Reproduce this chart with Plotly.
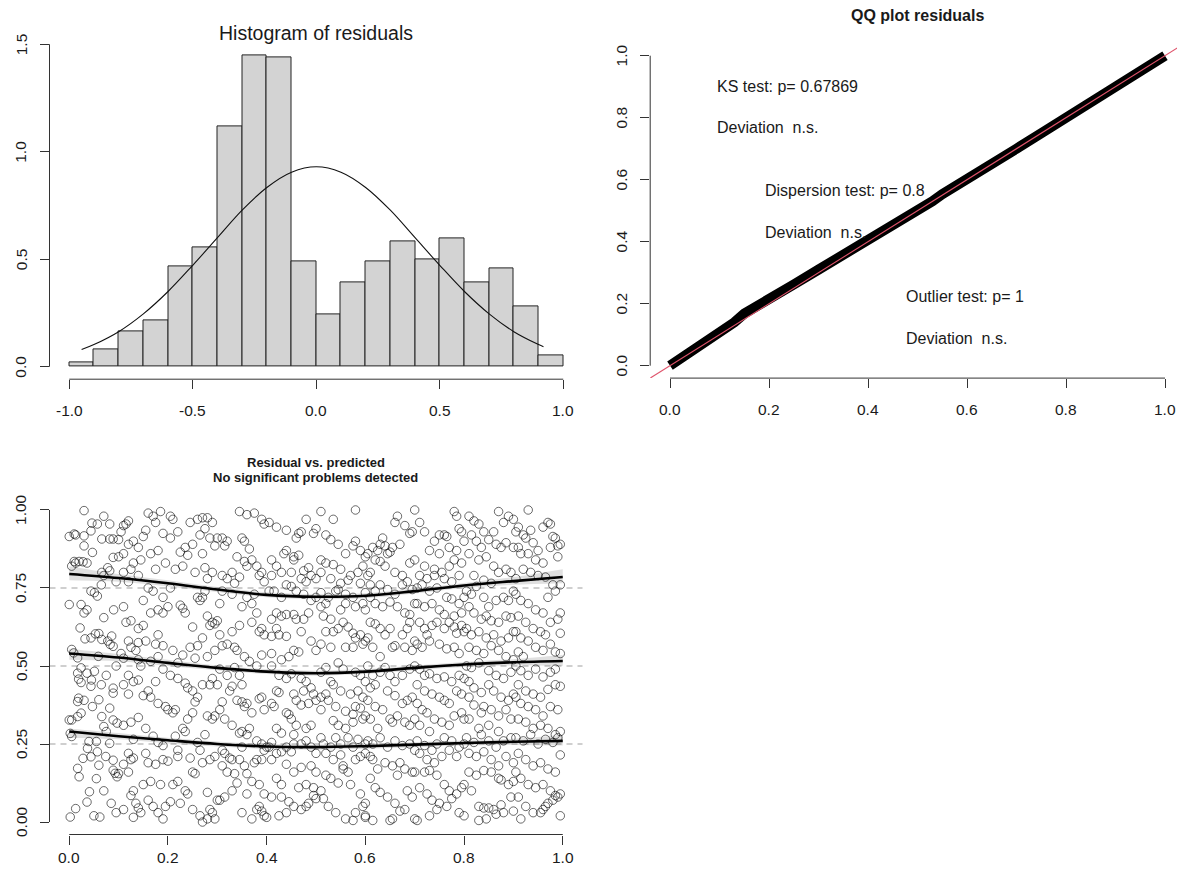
import plotly.graph_objects as go

W, H = 1185, 874
OFF = 8  # the page body adds an 8px margin; shift the figure so its pixels line up with the window
FW, FH = W - OFF, H - OFF
FONT = "Liberation Sans, Arial, Helvetica, sans-serif"
TXT = "#1a1a1a"
AX = "#333333"

# ---------------- Histogram of residuals ----------------
hist_left_edges = [-1.0, -0.9, -0.8, -0.7, -0.6, -0.5, -0.4, -0.3, -0.2, -0.1,
                   0.0, 0.1, 0.2, 0.3, 0.4, 0.5, 0.6, 0.7, 0.8, 0.9]
hist_density = [0.019, 0.081, 0.163, 0.217, 0.465, 0.555, 1.12, 1.446, 1.438, 0.49,
                0.245, 0.391, 0.49, 0.582, 0.50, 0.599, 0.391, 0.456, 0.282, 0.054]
hist_bin_width = 0.1
normal_x = [-0.95, -0.9, -0.8, -0.7, -0.6, -0.5, -0.4, -0.3, -0.2, -0.1, 0.0,
            0.1, 0.2, 0.3, 0.4, 0.5, 0.6, 0.7, 0.8, 0.9, 0.92]
normal_y = [0.080, 0.103, 0.163, 0.246, 0.350, 0.472, 0.600, 0.728, 0.834, 0.905, 0.930,
            0.905, 0.834, 0.728, 0.600, 0.472, 0.350, 0.246, 0.163, 0.103, 0.093]
hist_xticks = [-1.0, -0.5, 0.0, 0.5, 1.0]
hist_xlabels = ["-1.0", "-0.5", "0.0", "0.5", "1.0"]
hist_yticks = [0.0, 0.5, 1.0, 1.5]
hist_ylabels = ["0.0", "0.5", "1.0", "1.5"]

# ---------------- QQ plot residuals ----------------
qq_expected = [0.0, 0.02, 0.05, 0.1, 0.13, 0.15, 0.2, 0.25, 0.3, 0.35, 0.4, 0.45, 0.5,
               0.53, 0.55, 0.6, 0.65, 0.7, 0.75, 0.8, 0.85, 0.9, 0.95, 1.0]
qq_observed = [0.0, 0.021, 0.054, 0.108, 0.14, 0.168, 0.212, 0.262, 0.31, 0.357, 0.406, 0.455, 0.495,
               0.53, 0.553, 0.605, 0.648, 0.70, 0.75, 0.799, 0.85, 0.90, 0.945, 1.0]
qq_ticks = [0.0, 0.2, 0.4, 0.6, 0.8, 1.0]
qq_labels = ["0.0", "0.2", "0.4", "0.6", "0.8", "1.0"]
qq_texts = ["KS test: p= 0.67869", "Deviation  n.s.",
            "Dispersion test: p= 0.8", "Deviation  n.s.",
            "Outlier test: p= 1", "Deviation  n.s."]
qq_text_x = [0.09, 0.09, 0.188, 0.188, 0.473, 0.473]
qq_text_y = [0.90, 0.767, 0.565, 0.429, 0.223, 0.087]

# ---------------- Residual vs. predicted ----------------
scatter_points = [
    # 0.0 - 0.1
    (0.0, 0.915), (0.01, 0.923), (0.03, 0.998), (0.013, 0.92), (0.03, 0.917), (0.046, 0.958),
    (0.044, 0.933), (0.057, 0.955), (0.07, 0.98), (0.082, 0.955), (0.066, 0.907), (0.082, 0.907),
    (0.03, 0.885), (0.028, 0.834), (0.013, 0.83), (0.036, 0.83), (0.02, 0.835), (0.047, 0.864),
    (0.089, 0.907), (0.089, 0.848), (0.066, 0.8), (0.078, 0.815), (0.082, 0.805), (0.0, 0.697),
    (0.024, 0.697), (0.03, 0.67), (0.036, 0.68), (0.044, 0.74), (0.051, 0.735), (0.057, 0.724),
    (0.022, 0.622), (0.032, 0.587), (0.044, 0.59), (0.053, 0.603), (0.06, 0.604), (0.066, 0.585),
    (0.078, 0.58), (0.086, 0.596), (0.083, 0.569), (0.089, 0.563), (0.059, 0.531), (0.005, 0.553),
    (0.009, 0.542), (0.017, 0.526), (0.017, 0.477), (0.024, 0.494), (0.019, 0.458), (0.024, 0.447),
    (0.036, 0.477), (0.044, 0.435), (0.051, 0.483), (0.089, 0.429), (0.089, 0.413), (0.0, 0.327),
    (0.005, 0.327), (0.017, 0.338), (0.017, 0.386), (0.019, 0.397), (0.024, 0.349), (0.047, 0.37),
    (0.06, 0.392), (0.066, 0.338), (0.07, 0.306), (0.075, 0.29), (0.089, 0.327), (0.097, 0.317),
    (0.082, 0.365), (0.002, 0.284), (0.005, 0.274), (0.017, 0.172), (0.02, 0.145), (0.028, 0.204),
    (0.04, 0.258), (0.037, 0.236), (0.044, 0.209), (0.036, 0.064), (0.041, 0.097), (0.055, 0.258),
    (0.057, 0.225), (0.06, 0.182), (0.055, 0.139), (0.062, 0.016), (0.074, 0.21), (0.082, 0.252),
    (0.089, 0.166), (0.093, 0.156), (0.002, 0.016), (0.013, 0.043), (0.089, 0.198), (0.097, 0.145),
    (0.005, 0.82), (0.01, 0.835), (0.065, 0.76), (0.07, 0.79), (0.095, 0.77), (0.09, 0.68),
    (0.07, 0.655), (0.095, 0.50), (0.075, 0.47), (0.065, 0.44), (0.045, 0.455), (0.03, 0.39),
    (0.07, 0.10), (0.085, 0.06), (0.095, 0.03), (0.05, 0.02),
    # 0.1 - 0.2
    (0.11, 0.95), (0.115, 0.955), (0.12, 0.965), (0.105, 0.93), (0.13, 0.90), (0.16, 0.99),
    (0.17, 0.98), (0.155, 0.935), (0.175, 0.96), (0.185, 0.995), (0.19, 0.925), (0.15, 0.915),
    (0.14, 0.88), (0.12, 0.89), (0.10, 0.905), (0.11, 0.86), (0.10, 0.85), (0.13, 0.83),
    (0.145, 0.84), (0.165, 0.86), (0.18, 0.87), (0.195, 0.83), (0.175, 0.81), (0.125, 0.81),
    (0.11, 0.80), (0.14, 0.79), (0.12, 0.77), (0.16, 0.75), (0.17, 0.74), (0.19, 0.72),
    (0.20, 0.69), (0.18, 0.68), (0.15, 0.71), (0.11, 0.69), (0.115, 0.64), (0.125, 0.645),
    (0.14, 0.62), (0.15, 0.63), (0.165, 0.67), (0.19, 0.67), (0.18, 0.60), (0.175, 0.57),
    (0.19, 0.565), (0.12, 0.58), (0.14, 0.575), (0.135, 0.55), (0.125, 0.56), (0.155, 0.58),
    (0.11, 0.525), (0.105, 0.54), (0.14, 0.52), (0.145, 0.50), (0.165, 0.515), (0.19, 0.49),
    (0.18, 0.53), (0.12, 0.47), (0.13, 0.45), (0.14, 0.455), (0.16, 0.42), (0.175, 0.45),
    (0.15, 0.405), (0.165, 0.40), (0.12, 0.41), (0.11, 0.44), (0.18, 0.38), (0.195, 0.37),
    (0.2, 0.36), (0.14, 0.335), (0.125, 0.32), (0.11, 0.31), (0.155, 0.30), (0.17, 0.275),
    (0.18, 0.255), (0.19, 0.245), (0.13, 0.265), (0.12, 0.22), (0.125, 0.20), (0.13, 0.205),
    (0.11, 0.185), (0.155, 0.22), (0.16, 0.19), (0.175, 0.185), (0.19, 0.20), (0.2, 0.195),
    (0.12, 0.16), (0.10, 0.155), (0.15, 0.12), (0.13, 0.10), (0.135, 0.06), (0.14, 0.045),
    (0.13, 0.015), (0.145, 0.03), (0.16, 0.07), (0.17, 0.05), (0.18, 0.03), (0.19, 0.01),
    (0.165, 0.13), (0.185, 0.12), (0.195, 0.05), (0.11, 0.04), (0.125, 0.085),
    # 0.2 - 0.3
    (0.205, 0.98), (0.21, 0.97), (0.22, 0.93), (0.205, 0.91), (0.235, 0.88), (0.24, 0.855),
    (0.245, 0.96), (0.26, 0.97), (0.27, 0.975), (0.265, 0.92), (0.28, 0.975), (0.275, 0.94),
    (0.29, 0.96), (0.25, 0.89), (0.27, 0.86), (0.285, 0.91), (0.30, 0.91), (0.295, 0.885),
    (0.225, 0.865), (0.215, 0.81), (0.23, 0.82), (0.255, 0.80), (0.28, 0.78), (0.29, 0.80),
    (0.275, 0.815), (0.205, 0.75), (0.225, 0.695), (0.23, 0.685), (0.235, 0.67), (0.25, 0.625),
    (0.26, 0.72), (0.265, 0.71), (0.27, 0.72), (0.275, 0.74), (0.28, 0.66), (0.29, 0.64),
    (0.295, 0.635), (0.285, 0.63), (0.3, 0.645), (0.27, 0.59), (0.245, 0.56), (0.255, 0.525),
    (0.26, 0.565), (0.23, 0.535), (0.21, 0.55), (0.22, 0.51), (0.28, 0.53), (0.295, 0.55),
    (0.205, 0.47), (0.22, 0.46), (0.235, 0.445), (0.24, 0.43), (0.25, 0.42), (0.27, 0.44),
    (0.285, 0.44), (0.3, 0.44), (0.29, 0.46), (0.26, 0.4), (0.255, 0.385), (0.28, 0.34),
    (0.29, 0.33), (0.295, 0.34), (0.24, 0.33), (0.23, 0.30), (0.235, 0.29), (0.215, 0.36),
    (0.21, 0.35), (0.25, 0.35), (0.215, 0.275), (0.22, 0.23), (0.22, 0.21), (0.245, 0.205),
    (0.26, 0.255), (0.265, 0.23), (0.275, 0.28), (0.27, 0.19), (0.255, 0.155), (0.25, 0.16),
    (0.235, 0.10), (0.24, 0.09), (0.22, 0.13), (0.21, 0.12), (0.205, 0.065), (0.225, 0.06),
    (0.25, 0.04), (0.265, 0.02), (0.27, 0.0), (0.28, 0.01), (0.285, 0.04), (0.29, 0.03),
    (0.295, 0.01), (0.28, 0.095), (0.3, 0.07), (0.285, 0.20), (0.295, 0.21),
    # 0.3 - 0.4
    (0.31, 0.91), (0.32, 0.90), (0.315, 0.885), (0.345, 0.995), (0.36, 0.985), (0.375, 0.99),
    (0.39, 0.97), (0.395, 0.955), (0.35, 0.91), (0.355, 0.90), (0.365, 0.875), (0.34, 0.85),
    (0.355, 0.835), (0.36, 0.82), (0.37, 0.84), (0.38, 0.82), (0.385, 0.79), (0.39, 0.80),
    (0.33, 0.80), (0.31, 0.79), (0.32, 0.78), (0.335, 0.765), (0.345, 0.785), (0.395, 0.77),
    (0.31, 0.74), (0.305, 0.70), (0.33, 0.73), (0.35, 0.69), (0.37, 0.70), (0.36, 0.72),
    (0.375, 0.73), (0.38, 0.67), (0.37, 0.64), (0.345, 0.63), (0.33, 0.61), (0.39, 0.62),
    (0.385, 0.61), (0.395, 0.60), (0.305, 0.60), (0.31, 0.565), (0.32, 0.57), (0.335, 0.56),
    (0.34, 0.55), (0.355, 0.53), (0.365, 0.515), (0.38, 0.50), (0.39, 0.535), (0.305, 0.49),
    (0.32, 0.47), (0.335, 0.495), (0.345, 0.47), (0.35, 0.44), (0.33, 0.435), (0.325, 0.42),
    (0.34, 0.39), (0.35, 0.385), (0.355, 0.37), (0.36, 0.38), (0.385, 0.395), (0.39, 0.40),
    (0.395, 0.36), (0.37, 0.35), (0.31, 0.385), (0.305, 0.36), (0.315, 0.33), (0.33, 0.31),
    (0.345, 0.285), (0.35, 0.29), (0.36, 0.28), (0.365, 0.30), (0.38, 0.26), (0.39, 0.25),
    (0.4, 0.24), (0.31, 0.23), (0.315, 0.22), (0.325, 0.205), (0.33, 0.20), (0.345, 0.20),
    (0.35, 0.24), (0.355, 0.18), (0.375, 0.19), (0.38, 0.2), (0.39, 0.20), (0.395, 0.23),
    (0.31, 0.18), (0.32, 0.16), (0.335, 0.155), (0.36, 0.155), (0.37, 0.13), (0.385, 0.12),
    (0.395, 0.09), (0.305, 0.07), (0.315, 0.08), (0.35, 0.03), (0.37, 0.01), (0.38, 0.04),
    (0.385, 0.05), (0.39, 0.035), (0.395, 0.02), (0.4, 0.015), (0.36, 0.09), (0.33, 0.10),
    (0.34, 0.125),
    # 0.4 - 0.5
    (0.405, 0.96), (0.42, 0.945), (0.44, 0.935), (0.46, 0.91), (0.465, 0.925), (0.47, 0.93),
    (0.48, 0.97), (0.495, 0.925), (0.5, 0.94), (0.455, 0.85), (0.455, 0.84), (0.465, 0.855),
    (0.44, 0.87), (0.435, 0.86), (0.41, 0.84), (0.42, 0.82), (0.43, 0.80), (0.45, 0.80),
    (0.475, 0.805), (0.485, 0.815), (0.49, 0.79), (0.5, 0.78), (0.47, 0.78), (0.48, 0.77),
    (0.41, 0.79), (0.44, 0.76), (0.405, 0.74), (0.415, 0.74), (0.43, 0.72), (0.45, 0.755),
    (0.46, 0.74), (0.475, 0.73), (0.49, 0.71), (0.5, 0.72), (0.42, 0.67), (0.41, 0.65),
    (0.43, 0.66), (0.44, 0.665), (0.455, 0.665), (0.46, 0.65), (0.475, 0.65), (0.485, 0.67),
    (0.42, 0.62), (0.425, 0.60), (0.41, 0.595), (0.44, 0.595), (0.47, 0.61), (0.49, 0.58),
    (0.5, 0.55), (0.455, 0.55), (0.465, 0.545), (0.43, 0.52), (0.445, 0.53), (0.41, 0.54),
    (0.41, 0.50), (0.425, 0.47), (0.44, 0.46), (0.45, 0.475), (0.47, 0.46), (0.48, 0.45),
    (0.49, 0.43), (0.495, 0.41), (0.42, 0.42), (0.425, 0.415), (0.455, 0.41), (0.475, 0.42),
    (0.46, 0.39), (0.47, 0.375), (0.485, 0.38), (0.5, 0.39), (0.41, 0.38), (0.415, 0.37),
    (0.44, 0.35), (0.445, 0.345), (0.45, 0.33), (0.46, 0.31), (0.48, 0.30), (0.49, 0.31),
    (0.42, 0.30), (0.43, 0.285), (0.455, 0.28), (0.41, 0.255), (0.405, 0.24), (0.42, 0.22),
    (0.43, 0.225), (0.44, 0.24), (0.45, 0.225), (0.455, 0.25), (0.47, 0.25), (0.48, 0.26),
    (0.49, 0.24), (0.5, 0.22), (0.41, 0.20), (0.44, 0.185), (0.455, 0.16), (0.47, 0.175),
    (0.49, 0.18), (0.5, 0.16), (0.42, 0.14), (0.43, 0.12), (0.465, 0.11), (0.48, 0.12),
    (0.495, 0.11), (0.41, 0.08), (0.43, 0.08), (0.44, 0.03), (0.445, 0.065), (0.455, 0.05),
    (0.47, 0.04), (0.48, 0.05), (0.485, 0.06), (0.5, 0.075), (0.495, 0.085), (0.425, 0.02),
    # 0.5 - 0.6
    (0.51, 0.995), (0.535, 0.97), (0.58, 1.0), (0.52, 0.92), (0.53, 0.905), (0.545, 0.89),
    (0.575, 0.885), (0.58, 0.90), (0.59, 0.87), (0.56, 0.86), (0.51, 0.84), (0.52, 0.83),
    (0.535, 0.825), (0.55, 0.81), (0.57, 0.79), (0.585, 0.80), (0.595, 0.82), (0.6, 0.85),
    (0.51, 0.80), (0.53, 0.78), (0.55, 0.765), (0.565, 0.775), (0.59, 0.765), (0.545, 0.745),
    (0.51, 0.735), (0.525, 0.72), (0.54, 0.74), (0.56, 0.73), (0.575, 0.72), (0.6, 0.735),
    (0.51, 0.69), (0.52, 0.70), (0.55, 0.68), (0.56, 0.70), (0.58, 0.69), (0.595, 0.70),
    (0.6, 0.68), (0.515, 0.66), (0.53, 0.65), (0.555, 0.64), (0.565, 0.625), (0.575, 0.605),
    (0.58, 0.59), (0.59, 0.60), (0.6, 0.58), (0.52, 0.61), (0.535, 0.61), (0.545, 0.62),
    (0.56, 0.56), (0.575, 0.56), (0.53, 0.56), (0.51, 0.57), (0.595, 0.57), (0.51, 0.48),
    (0.52, 0.495), (0.545, 0.51), (0.555, 0.49), (0.58, 0.48), (0.59, 0.47), (0.6, 0.45),
    (0.53, 0.45), (0.535, 0.44), (0.55, 0.42), (0.57, 0.41), (0.585, 0.42), (0.595, 0.40),
    (0.52, 0.41), (0.51, 0.40), (0.525, 0.39), (0.54, 0.37), (0.56, 0.355), (0.575, 0.345),
    (0.58, 0.37), (0.59, 0.365), (0.6, 0.34), (0.51, 0.36), (0.535, 0.325), (0.545, 0.31),
    (0.56, 0.30), (0.575, 0.32), (0.595, 0.33), (0.51, 0.27), (0.515, 0.25), (0.53, 0.24),
    (0.54, 0.27), (0.55, 0.25), (0.565, 0.27), (0.575, 0.24), (0.585, 0.265), (0.6, 0.25),
    (0.52, 0.22), (0.535, 0.20), (0.55, 0.215), (0.555, 0.18), (0.565, 0.16), (0.58, 0.2),
    (0.59, 0.21), (0.6, 0.22), (0.52, 0.15), (0.53, 0.14), (0.545, 0.125), (0.555, 0.17),
    (0.57, 0.12), (0.59, 0.09), (0.6, 0.06), (0.51, 0.10), (0.515, 0.075), (0.525, 0.05),
    (0.54, 0.03), (0.56, 0.01), (0.575, 0.005), (0.58, 0.03), (0.595, 0.05), (0.6, 0.02),
    # 0.6 - 0.7
    (0.605, 0.86), (0.615, 0.88), (0.625, 0.87), (0.63, 0.89), (0.635, 0.91), (0.64, 0.885),
    (0.645, 0.86), (0.65, 0.865), (0.66, 0.96), (0.665, 0.98), (0.68, 0.95), (0.69, 0.925),
    (0.695, 0.93), (0.7, 1.0), (0.655, 0.88), (0.67, 0.89), (0.62, 0.84), (0.63, 0.835),
    (0.64, 0.82), (0.66, 0.80), (0.675, 0.79), (0.685, 0.77), (0.7, 0.84), (0.69, 0.83),
    (0.61, 0.80), (0.605, 0.79), (0.61, 0.76), (0.62, 0.74), (0.63, 0.76), (0.645, 0.745),
    (0.66, 0.73), (0.675, 0.76), (0.695, 0.745), (0.61, 0.72), (0.62, 0.70), (0.635, 0.69),
    (0.65, 0.705), (0.665, 0.69), (0.68, 0.67), (0.69, 0.665), (0.7, 0.70), (0.61, 0.64),
    (0.62, 0.635), (0.63, 0.62), (0.64, 0.60), (0.65, 0.62), (0.655, 0.56), (0.66, 0.565),
    (0.675, 0.60), (0.685, 0.62), (0.69, 0.64), (0.7, 0.58), (0.605, 0.59), (0.615, 0.56),
    (0.63, 0.53), (0.68, 0.56), (0.695, 0.55), (0.605, 0.50), (0.615, 0.47), (0.63, 0.48),
    (0.64, 0.495), (0.65, 0.47), (0.66, 0.45), (0.675, 0.47), (0.69, 0.49), (0.7, 0.50),
    (0.61, 0.43), (0.62, 0.44), (0.645, 0.42), (0.66, 0.405), (0.675, 0.38), (0.685, 0.39),
    (0.695, 0.40), (0.605, 0.39), (0.62, 0.37), (0.635, 0.36), (0.65, 0.33), (0.655, 0.32),
    (0.665, 0.34), (0.68, 0.32), (0.69, 0.31), (0.7, 0.33), (0.61, 0.33), (0.625, 0.30),
    (0.605, 0.26), (0.615, 0.25), (0.63, 0.27), (0.645, 0.24), (0.66, 0.26), (0.675, 0.245),
    (0.69, 0.25), (0.7, 0.23), (0.61, 0.21), (0.615, 0.20), (0.625, 0.17), (0.64, 0.19),
    (0.655, 0.18), (0.665, 0.15), (0.67, 0.19), (0.68, 0.17), (0.695, 0.16), (0.7, 0.16),
    (0.61, 0.14), (0.62, 0.11), (0.63, 0.095), (0.645, 0.08), (0.66, 0.06), (0.67, 0.035),
    (0.685, 0.1), (0.695, 0.08), (0.6, 0.015), (0.615, 0.005), (0.65, 0.005), (0.655, 0.01),
    (0.68, 0.04), (0.7, 0.01), (0.705, 0.005),
    # 0.7 - 0.8
    (0.71, 0.96), (0.72, 0.93), (0.74, 0.90), (0.75, 0.92), (0.76, 0.92), (0.765, 0.915),
    (0.78, 0.995), (0.785, 0.98), (0.79, 0.94), (0.795, 0.93), (0.8, 0.90), (0.73, 0.87),
    (0.75, 0.86), (0.77, 0.88), (0.785, 0.87), (0.72, 0.82), (0.74, 0.81), (0.755, 0.80),
    (0.77, 0.82), (0.78, 0.84), (0.795, 0.83), (0.71, 0.79), (0.725, 0.78), (0.74, 0.79),
    (0.76, 0.78), (0.775, 0.77), (0.79, 0.79), (0.705, 0.75), (0.715, 0.76), (0.73, 0.74),
    (0.745, 0.75), (0.765, 0.72), (0.775, 0.715), (0.79, 0.70), (0.8, 0.72), (0.705, 0.70),
    (0.72, 0.69), (0.735, 0.70), (0.75, 0.68), (0.76, 0.665), (0.78, 0.66), (0.795, 0.67),
    (0.71, 0.64), (0.72, 0.62), (0.725, 0.60), (0.735, 0.63), (0.745, 0.64), (0.76, 0.62),
    (0.77, 0.64), (0.78, 0.625), (0.785, 0.605), (0.795, 0.63), (0.8, 0.61), (0.705, 0.57),
    (0.715, 0.56), (0.73, 0.58), (0.75, 0.57), (0.765, 0.555), (0.78, 0.56), (0.79, 0.54),
    (0.71, 0.49), (0.72, 0.47), (0.73, 0.475), (0.745, 0.46), (0.76, 0.465), (0.775, 0.45),
    (0.79, 0.47), (0.8, 0.46), (0.705, 0.44), (0.72, 0.42), (0.735, 0.41), (0.75, 0.40),
    (0.76, 0.39), (0.77, 0.38), (0.785, 0.42), (0.795, 0.41), (0.705, 0.38), (0.715, 0.36),
    (0.725, 0.35), (0.74, 0.33), (0.755, 0.32), (0.77, 0.31), (0.78, 0.34), (0.795, 0.35),
    (0.8, 0.33), (0.71, 0.31), (0.73, 0.29), (0.705, 0.26), (0.72, 0.245), (0.735, 0.23),
    (0.745, 0.25), (0.76, 0.27), (0.775, 0.26), (0.79, 0.24), (0.8, 0.25), (0.71, 0.22),
    (0.725, 0.20), (0.74, 0.19), (0.755, 0.21), (0.77, 0.23), (0.785, 0.21), (0.72, 0.16),
    (0.73, 0.165), (0.745, 0.15), (0.76, 0.12), (0.77, 0.10), (0.785, 0.09), (0.795, 0.11),
    (0.8, 0.12), (0.71, 0.11), (0.725, 0.09), (0.735, 0.07), (0.75, 0.06), (0.765, 0.05),
    (0.775, 0.075), (0.79, 0.03), (0.8, 0.02), (0.73, 0.02), (0.745, 0.04),
    # 0.8 - 0.9
    (0.81, 0.98), (0.82, 0.965), (0.83, 0.955), (0.84, 0.93), (0.86, 0.93), (0.87, 0.995),
    (0.88, 0.96), (0.89, 0.98), (0.9, 0.97), (0.815, 0.92), (0.825, 0.90), (0.835, 0.88),
    (0.85, 0.905), (0.865, 0.89), (0.875, 0.88), (0.885, 0.895), (0.9, 0.88), (0.81, 0.86),
    (0.83, 0.84), (0.845, 0.85), (0.86, 0.82), (0.87, 0.80), (0.885, 0.81), (0.895, 0.80),
    (0.82, 0.79), (0.84, 0.775), (0.855, 0.765), (0.805, 0.74), (0.815, 0.73), (0.825, 0.755),
    (0.84, 0.72), (0.85, 0.69), (0.865, 0.71), (0.88, 0.72), (0.89, 0.71), (0.9, 0.74),
    (0.81, 0.69), (0.82, 0.67), (0.835, 0.65), (0.845, 0.66), (0.855, 0.645), (0.87, 0.64),
    (0.885, 0.66), (0.895, 0.655), (0.805, 0.62), (0.815, 0.60), (0.83, 0.61), (0.845, 0.59),
    (0.86, 0.60), (0.875, 0.58), (0.89, 0.59), (0.9, 0.61), (0.81, 0.56), (0.825, 0.55),
    (0.84, 0.54), (0.855, 0.565), (0.87, 0.55), (0.885, 0.53), (0.9, 0.52), (0.805, 0.50),
    (0.815, 0.495), (0.83, 0.51), (0.85, 0.485), (0.865, 0.47), (0.88, 0.46), (0.895, 0.48),
    (0.81, 0.45), (0.82, 0.43), (0.835, 0.415), (0.85, 0.44), (0.86, 0.42), (0.875, 0.40),
    (0.89, 0.39), (0.9, 0.41), (0.81, 0.40), (0.82, 0.375), (0.835, 0.35), (0.84, 0.37),
    (0.855, 0.36), (0.87, 0.34), (0.885, 0.36), (0.895, 0.33), (0.81, 0.33), (0.83, 0.30),
    (0.85, 0.31), (0.87, 0.29), (0.805, 0.27), (0.82, 0.255), (0.835, 0.28), (0.85, 0.26),
    (0.865, 0.24), (0.88, 0.26), (0.895, 0.27), (0.81, 0.22), (0.825, 0.21), (0.84, 0.225),
    (0.855, 0.20), (0.87, 0.18), (0.885, 0.21), (0.9, 0.19), (0.81, 0.16), (0.825, 0.15),
    (0.84, 0.165), (0.855, 0.16), (0.87, 0.14), (0.875, 0.135), (0.89, 0.12), (0.9, 0.13),
    (0.815, 0.10), (0.83, 0.05), (0.84, 0.045), (0.85, 0.045), (0.86, 0.04), (0.865, 0.025),
    (0.875, 0.055), (0.88, 0.03), (0.895, 0.08), (0.9, 0.035), (0.83, 0.005), (0.845, 0.01),
    # 0.9 - 1.0
    (0.905, 0.93), (0.91, 0.945), (0.92, 0.92), (0.925, 0.91), (0.93, 1.0), (0.935, 0.935),
    (0.94, 0.895), (0.95, 0.87), (0.96, 0.945), (0.97, 0.96), (0.975, 0.955), (0.98, 0.915),
    (0.985, 0.91), (0.99, 0.885), (0.995, 0.89), (0.91, 0.88), (0.915, 0.86), (0.93, 0.86),
    (0.945, 0.84), (0.96, 0.83), (0.975, 0.88), (0.99, 0.85), (0.92, 0.81), (0.935, 0.80),
    (0.95, 0.79), (0.965, 0.785), (0.98, 0.76), (0.995, 0.76), (0.905, 0.78), (0.905, 0.73),
    (0.915, 0.71), (0.93, 0.70), (0.945, 0.68), (0.96, 0.67), (0.97, 0.72), (0.985, 0.74),
    (0.995, 0.67), (0.91, 0.66), (0.925, 0.64), (0.94, 0.62), (0.955, 0.61), (0.965, 0.60),
    (0.975, 0.64), (0.99, 0.65), (0.995, 0.605), (0.905, 0.61), (0.915, 0.59), (0.93, 0.58),
    (0.945, 0.56), (0.96, 0.55), (0.975, 0.57), (0.985, 0.545), (0.995, 0.54), (0.91, 0.545),
    (0.92, 0.53), (0.905, 0.50), (0.915, 0.485), (0.93, 0.47), (0.945, 0.49), (0.96, 0.465),
    (0.975, 0.48), (0.985, 0.49), (0.995, 0.435), (0.91, 0.44), (0.925, 0.42), (0.94, 0.41),
    (0.955, 0.40), (0.97, 0.425), (0.985, 0.44), (0.905, 0.40), (0.915, 0.38), (0.93, 0.37),
    (0.945, 0.36), (0.96, 0.34), (0.975, 0.37), (0.99, 0.36), (0.91, 0.33), (0.925, 0.32),
    (0.94, 0.30), (0.955, 0.31), (0.97, 0.30), (0.985, 0.28), (0.995, 0.29), (0.905, 0.27),
    (0.92, 0.26), (0.935, 0.28), (0.95, 0.25), (0.965, 0.265), (0.98, 0.255), (0.99, 0.27),
    (0.995, 0.215), (0.91, 0.22), (0.925, 0.20), (0.94, 0.18), (0.955, 0.19), (0.97, 0.17),
    (0.985, 0.16), (0.905, 0.16), (0.915, 0.14), (0.93, 0.12), (0.945, 0.11), (0.96, 0.12),
    (0.975, 0.10), (0.985, 0.085), (0.99, 0.08), (0.995, 0.09), (0.91, 0.08), (0.925, 0.05),
    (0.94, 0.03), (0.955, 0.03), (0.96, 0.04), (0.965, 0.05), (0.97, 0.06), (0.98, 0.07),
    (0.995, 0.02), (0.915, 0.01),
]
pred_x = [p[0] for p in scatter_points]
resid_y = [p[1] for p in scatter_points]

quant_x = [0.0, 0.1, 0.2, 0.3, 0.4, 0.5, 0.6, 0.7, 0.8, 0.9, 1.0]
q25 = [0.29, 0.275, 0.262, 0.25, 0.242, 0.24, 0.243, 0.248, 0.253, 0.257, 0.26]
q25_lo = [0.27, 0.265, 0.252, 0.242, 0.234, 0.232, 0.235, 0.24, 0.245, 0.247, 0.245]
q25_hi = [0.30, 0.285, 0.27, 0.258, 0.25, 0.248, 0.251, 0.256, 0.261, 0.267, 0.28]
q50 = [0.54, 0.527, 0.51, 0.494, 0.482, 0.477, 0.482, 0.494, 0.505, 0.512, 0.516]
q50_lo = [0.52, 0.515, 0.50, 0.486, 0.474, 0.469, 0.474, 0.486, 0.497, 0.502, 0.50]
q50_hi = [0.555, 0.538, 0.52, 0.502, 0.49, 0.485, 0.49, 0.502, 0.513, 0.522, 0.535]
q75 = [0.795, 0.782, 0.765, 0.745, 0.728, 0.722, 0.725, 0.74, 0.758, 0.772, 0.785]
q75_lo = [0.775, 0.77, 0.755, 0.737, 0.72, 0.714, 0.717, 0.732, 0.75, 0.76, 0.765]
q75_hi = [0.82, 0.795, 0.775, 0.753, 0.736, 0.73, 0.733, 0.748, 0.766, 0.785, 0.81]
ref_quantiles = [0.25, 0.5, 0.75]
sc_xticks = [0.0, 0.2, 0.4, 0.6, 0.8, 1.0]
sc_xlabels = ["0.0", "0.2", "0.4", "0.6", "0.8", "1.0"]
sc_yticks = [0.0, 0.25, 0.5, 0.75, 1.0]
sc_ylabels = ["0.00", "0.25", "0.50", "0.75", "1.00"]

# ---------------- pixel layout helpers (window pixels -> paper) ----------------
def px(x):
    return (x - OFF) / FW

def py(y):
    return 1 - (y - OFF) / FH

fig = go.Figure()

# Histogram
bar_mid = [e + hist_bin_width / 2 for e in hist_left_edges]
fig.add_trace(go.Bar(x=bar_mid, y=hist_density, width=hist_bin_width,
                     marker=dict(color="#D3D3D3", line=dict(color="#222222", width=1)),
                     xaxis="x", yaxis="y", showlegend=False))
fig.add_trace(go.Scatter(x=normal_x, y=normal_y, mode="lines", line=dict(color="#111", width=1.1, shape="spline"),
                         xaxis="x", yaxis="y", showlegend=False))

# QQ
fig.add_trace(go.Scatter(x=qq_expected, y=qq_observed, mode="lines",
                         line=dict(color="black", width=10),
                         xaxis="x2", yaxis="y2", showlegend=False))

# Residual vs predicted
fig.add_trace(go.Scatter(x=pred_x, y=resid_y, mode="markers",
                         marker=dict(symbol="circle-open", size=8.5, color="rgba(0,0,0,0.58)", line=dict(width=1)),
                         xaxis="x3", yaxis="y3", showlegend=False))
for lo, hi, mid in [(q25_lo, q25_hi, q25), (q50_lo, q50_hi, q50), (q75_lo, q75_hi, q75)]:
    fig.add_trace(go.Scatter(x=quant_x, y=lo, mode="lines", line=dict(width=0, shape="spline"),
                             xaxis="x3", yaxis="y3", showlegend=False, hoverinfo="skip"))
    fig.add_trace(go.Scatter(x=quant_x, y=hi, mode="lines", line=dict(width=0, shape="spline"),
                             fill="tonexty", fillcolor="rgba(0,0,0,0.12)",
                             xaxis="x3", yaxis="y3", showlegend=False, hoverinfo="skip"))
    fig.add_trace(go.Scatter(x=quant_x, y=mid, mode="lines", line=dict(color="black", width=2.6, shape="spline"),
                             xaxis="x3", yaxis="y3", showlegend=False))

# panel geometry (window pixels)
hist_box = dict(x0=49.5, x1=583.0, y0=43.4, y1=379.2)
qq_box = dict(x0=650.2, x1=1184.8, y0=43.3, y1=378.1)
sc_box = dict(x0=49.5, x1=582.5, y0=497.5, y1=834.5)

def axis_common(tickvals):
    return dict(tickmode="array", tickvals=tickvals, ticks="outside", ticklen=9, tickwidth=1,
                tickcolor=AX, showticklabels=False, showgrid=False, zeroline=False, showline=False,
                fixedrange=True)

fig.update_layout(
    xaxis=dict(domain=[px(hist_box["x0"]), px(hist_box["x1"])], range=[-1.08, 1.08], anchor="y",
               **axis_common(hist_xticks)),
    yaxis=dict(domain=[py(hist_box["y1"]), py(hist_box["y0"])], range=[-0.058, 1.504], anchor="x",
               **axis_common(hist_yticks)),
    xaxis2=dict(domain=[px(qq_box["x0"]), min(1.0, px(qq_box["x1"]))], range=[-0.04, 1.04], anchor="y2",
                **axis_common(qq_ticks)),
    yaxis2=dict(domain=[py(qq_box["y1"]), py(qq_box["y0"])], range=[-0.04, 1.04], anchor="x2",
                **axis_common(qq_ticks)),
    xaxis3=dict(domain=[px(sc_box["x0"]), px(sc_box["x1"])], range=[-0.04, 1.04], anchor="y3",
                **axis_common(sc_xticks)),
    yaxis3=dict(domain=[py(sc_box["y1"]), py(sc_box["y0"])], range=[-0.04, 1.04], anchor="x3",
                **axis_common(sc_yticks)),
    width=FW, height=FH, margin=dict(l=0, r=0, t=0, b=0),
    paper_bgcolor="white", plot_bgcolor="white", bargap=0,
    font=dict(family=FONT, color=TXT),
)

shapes = []
for xr, yr, xt, yt in [("x", "y", hist_xticks, hist_yticks), ("x2", "y2", qq_ticks, qq_ticks),
                       ("x3", "y3", sc_xticks, sc_yticks)]:
    shapes.append(dict(type="line", xref=xr, yref=yr + " domain", x0=xt[0], x1=xt[-1], y0=0, y1=0,
                       line=dict(color=AX, width=1)))
    shapes.append(dict(type="line", xref=xr + " domain", yref=yr, x0=0, x1=0, y0=yt[0], y1=yt[-1],
                       line=dict(color=AX, width=1)))
shapes.append(dict(type="line", xref="x2", yref="y2", x0=-0.04, y0=-0.04, x1=1.04, y1=1.04,
                   line=dict(color="#DF536B", width=1.1)))
for q in ref_quantiles:
    shapes.append(dict(type="line", xref="x3 domain", yref="y3", x0=0, x1=1, y0=q, y1=q, layer="below",
                       line=dict(color="#a0a0a0", width=1.2, dash="6px,5px")))
fig.update_layout(shapes=shapes)

ann = []
TICKF = dict(family=FONT, size=15.5, color=TXT)

def xlabels(xref, vals, labels, box, gap):
    for v, t in zip(vals, labels):
        ann.append(dict(xref=xref, yref="paper", x=v, y=py(box["y1"] + gap), text=t, showarrow=False,
                        xanchor="center", yanchor="middle", font=TICKF))

def ylabels(yref, vals, labels, box):
    for v, t in zip(vals, labels):
        ann.append(dict(xref="paper", yref=yref, x=px(box["x0"] - 28.5), y=v, text=t, showarrow=False,
                        xanchor="center", yanchor="middle", textangle=-90, font=TICKF))

xlabels("x", hist_xticks, hist_xlabels, hist_box, 31)
ylabels("y", hist_yticks, hist_ylabels, hist_box)
xlabels("x2", qq_ticks, qq_labels, qq_box, 31)
ylabels("y2", qq_ticks, qq_labels, qq_box)
xlabels("x3", sc_xticks, sc_xlabels, sc_box, 23)
ylabels("y3", sc_yticks, sc_ylabels, sc_box)

ann.append(dict(xref="paper", yref="paper", x=px((hist_box["x0"] + hist_box["x1"]) / 2), y=py(33),
                text="Histogram of residuals", showarrow=False, xanchor="center", yanchor="middle",
                font=dict(family=FONT, size=19.5, color=TXT)))
ann.append(dict(xref="paper", yref="paper", x=px((qq_box["x0"] + qq_box["x1"]) / 2), y=py(15.5),
                text="<b>QQ plot residuals</b>", showarrow=False, xanchor="center", yanchor="middle",
                font=dict(family=FONT, size=16, color=TXT)))
ann.append(dict(xref="paper", yref="paper", x=px((sc_box["x0"] + sc_box["x1"]) / 2), y=py(462.7),
                text="<b>Residual vs. predicted</b>", showarrow=False, xanchor="center", yanchor="middle",
                font=dict(family=FONT, size=13, color=TXT)))
ann.append(dict(xref="paper", yref="paper", x=px((sc_box["x0"] + sc_box["x1"]) / 2), y=py(477.3),
                text="<b>No significant problems detected</b>", showarrow=False, xanchor="center",
                yanchor="middle", font=dict(family=FONT, size=13, color=TXT)))
for t, x, y in zip(qq_texts, qq_text_x, qq_text_y):
    ann.append(dict(xref="x2", yref="y2", x=x, y=y, text=t, showarrow=False, xanchor="left",
                    yanchor="middle", font=dict(family=FONT, size=16, color=TXT)))

fig.update_layout(annotations=ann)
fig.write_html("out.html")
